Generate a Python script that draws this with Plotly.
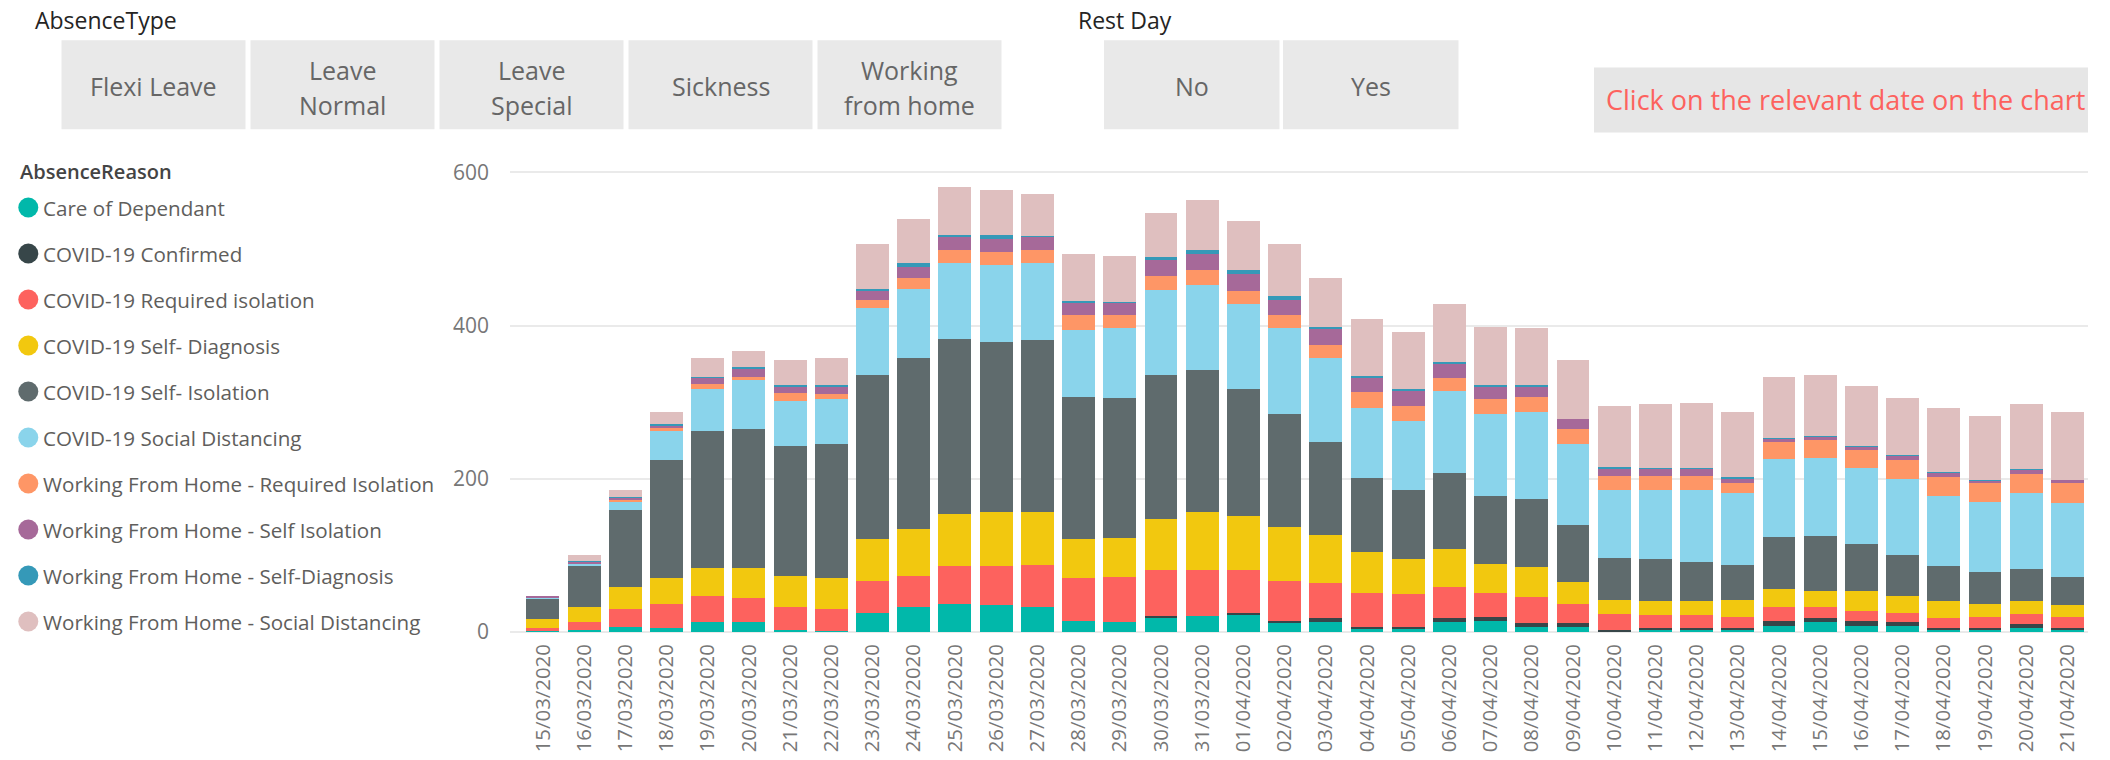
import plotly.graph_objects as go

# ---- data ---------------------------------------------------------------
dates = [
    "15/03/2020", "16/03/2020", "17/03/2020", "18/03/2020", "19/03/2020",
    "20/03/2020", "21/03/2020", "22/03/2020", "23/03/2020", "24/03/2020",
    "25/03/2020", "26/03/2020", "27/03/2020", "28/03/2020", "29/03/2020",
    "30/03/2020", "31/03/2020", "01/04/2020", "02/04/2020", "03/04/2020",
    "04/04/2020", "05/04/2020", "06/04/2020", "07/04/2020", "08/04/2020",
    "09/04/2020", "10/04/2020", "11/04/2020", "12/04/2020", "13/04/2020",
    "14/04/2020", "15/04/2020", "16/04/2020", "17/04/2020", "18/04/2020",
    "19/04/2020", "20/04/2020", "21/04/2020",
]

care_of_dependant = [1, 3, 7, 5, 13, 13, 3, 1, 25, 32, 37, 35, 32, 15, 13, 18, 21, 22, 12, 13,
                     5, 5, 13, 15, 7, 7, 1, 2, 2, 2, 8, 13, 8, 8, 3, 3, 5, 3]
covid_confirmed = [0, 0, 0, 0, 0, 0, 0, 0, 0, 0, 0, 0, 0, 0, 0, 3, 0, 3, 3, 5,
                   2, 2, 5, 5, 5, 5, 2, 3, 3, 3, 7, 5, 7, 5, 2, 2, 5, 2]
covid_required_isolation = [4, 10, 23, 32, 34, 31, 29, 29, 41, 41, 49, 51, 56, 56, 59, 60, 60, 56, 51, 46,
                            44, 42, 41, 31, 34, 24, 20, 17, 17, 15, 17, 14, 12, 12, 13, 15, 14, 15]
covid_self_diagnosis = [12, 20, 29, 34, 36, 39, 41, 41, 56, 61, 68, 70, 68, 51, 51, 66, 76, 71, 71, 63,
                        53, 46, 49, 38, 39, 29, 19, 19, 19, 22, 24, 22, 27, 22, 22, 17, 17, 15]
covid_self_isolation = [27, 53, 100, 153, 180, 182, 170, 175, 214, 223, 228, 223, 225, 185, 182, 189, 185, 165, 148, 121,
                        97, 90, 100, 88, 88, 75, 54, 54, 51, 46, 68, 71, 61, 53, 46, 41, 41, 37]
covid_social_distancing = [1, 3, 11, 39, 54, 64, 59, 58, 87, 91, 100, 100, 100, 87, 92, 110, 111, 111, 112, 110,
                           92, 90, 106, 107, 114, 105, 90, 90, 93, 93, 102, 102, 99, 100, 92, 92, 100, 97]
wfh_required_isolation = [0, 1, 2, 3, 7, 4, 10, 7, 10, 14, 17, 17, 17, 20, 17, 19, 19, 17, 17, 17,
                          20, 20, 17, 20, 20, 20, 17, 19, 19, 14, 22, 24, 24, 24, 24, 24, 24, 26]
wfh_self_isolation = [2, 2, 3, 4, 8, 10, 8, 10, 12, 14, 17, 17, 18, 15, 16, 20, 22, 22, 20, 20,
                      19, 20, 20, 17, 13, 13, 10, 9, 9, 6, 4, 4, 4, 6, 6, 4, 6, 3]
wfh_self_diagnosis = [0, 1, 1, 2, 1, 3, 2, 2, 3, 5, 2, 5, 1, 3, 1, 5, 5, 5, 5, 3,
                      2, 2, 2, 2, 2, 0, 2, 1, 1, 1, 1, 1, 1, 1, 1, 1, 1, 0]
wfh_social_distancing = [0, 7, 9, 15, 24, 21, 33, 34, 58, 58, 63, 59, 55, 62, 60, 57, 65, 65, 67, 64,
                         75, 75, 75, 75, 75, 77, 80, 83, 85, 85, 80, 80, 78, 75, 83, 83, 84, 89]

reasons = [
    "Care of Dependant",
    "COVID-19 Confirmed",
    "COVID-19 Required isolation",
    "COVID-19 Self- Diagnosis",
    "COVID-19 Self- Isolation",
    "COVID-19 Social Distancing",
    "Working From Home - Required Isolation",
    "Working From Home - Self Isolation",
    "Working From Home - Self-Diagnosis",
    "Working From Home - Social Distancing",
]
series = [
    care_of_dependant, covid_confirmed, covid_required_isolation, covid_self_diagnosis,
    covid_self_isolation, covid_social_distancing, wfh_required_isolation,
    wfh_self_isolation, wfh_self_diagnosis, wfh_social_distancing,
]
colors = [
    "#01B8AA", "#374649", "#FD625E", "#F2C80F", "#5F6B6D",
    "#8AD4EB", "#FE9666", "#A66999", "#3599B8", "#DFBFBF",
]

absence_types = [["Flexi Leave"], ["Leave", "Normal"], ["Leave", "Special"], ["Sickness"], ["Working", "from home"]]
rest_day_options = [["No"], ["Yes"]]

# ---- page geometry (pixels) ----------------------------------------------
W, H = 2110, 760
M_L, M_R, M_T, M_B = 510, 22, 157, 128
PW = W - M_L - M_R
PH = H - M_T - M_B
FONT = "Segoe UI, Open Sans, sans-serif"


def fx(x):
    return (x - M_L) / PW


def fy(y):
    return (H - M_B - y) / PH


fig = go.Figure()
for name, vals, col in zip(reasons, series, colors):
    fig.add_trace(go.Bar(
        x=dates, y=vals, name=name,
        marker=dict(color=col, line=dict(width=0)),
        showlegend=False,
    ))

shapes = []
annotations = []


def text_at(x, y, text, size, color, anchor="left", weight=None):
    font = dict(family=FONT, size=size, color=color)
    if weight:
        font["weight"] = weight
    annotations.append(dict(
        x=fx(x), y=fy(y), xref="paper", yref="paper",
        xanchor=anchor, yanchor="middle", text=text, showarrow=False, font=font,
    ))


def button(x0, x1, lines):
    shapes.append(dict(
        type="rect", xref="paper", yref="paper",
        x0=fx(x0), x1=fx(x1), y0=fy(129.3), y1=fy(40.3),
        fillcolor="#E9E9E9", line=dict(width=0), layer="below",
    ))
    cx = (x0 + x1) / 2
    if len(lines) == 1:
        text_at(cx, 86, lines[0], 25, "#666666", anchor="center")
    else:
        text_at(cx, 70, lines[0], 25, "#666666", anchor="center")
        text_at(cx, 105, lines[1], 25, "#666666", anchor="center")


# legend drawn as circles + labels on the left
text_at(18, 171, "AbsenceReason", 20, "#444444", weight=600)
for i, (name, col) in enumerate(zip(reasons, colors)):
    cy = 207.5 + 46.0 * i
    shapes.append(dict(
        type="circle", xref="paper", yref="paper",
        x0=fx(18.3), x1=fx(38.3), y0=fy(cy + 10), y1=fy(cy - 10),
        fillcolor=col, line=dict(width=0),
    ))
    text_at(41, cy, name, 20.6, "#605E5C")

# slicer: AbsenceType
text_at(33, 20, "AbsenceType", 23, "#252423")
for i, lines in enumerate(absence_types):
    x0 = 61.5 + 189 * i
    button(x0, x0 + 184, lines)

# slicer: Rest Day
text_at(1076, 20, "Rest Day", 23, "#252423")
for i, lines in enumerate(rest_day_options):
    x0 = 1104 + 179 * i
    button(x0, x0 + 175.5, lines)

# instruction banner
shapes.append(dict(
    type="rect", xref="paper", yref="paper",
    x0=fx(1594), x1=fx(2088), y0=fy(132.5), y1=fy(67.5),
    fillcolor="#E6E6E6", line=dict(width=0), layer="below",
))
text_at(1604, 100, "Click on the relevant date on the chart", 27, "#FD625E")

fig.update_layout(
    barmode="stack",
    bargap=0.2,
    width=W, height=H, autosize=False,
    margin=dict(l=M_L, r=M_R, t=M_T, b=M_B, pad=0),
    paper_bgcolor="white", plot_bgcolor="white",
    font=dict(family=FONT, color="#777777"),
    showlegend=False,
    shapes=shapes,
    annotations=annotations,
    xaxis=dict(
        type="category", range=[-0.8, 37.5], automargin=False,
        tickangle=-90, tickfont=dict(family=FONT, size=20.4, color="#777777"),
        showgrid=False, showline=False, zeroline=False, ticks="",
        ticklabelstandoff=7, fixedrange=True,
    ),
    yaxis=dict(
        range=[0, 620], tickvals=[0, 200, 400, 600], automargin=False,
        tickfont=dict(family=FONT, size=21, color="#777777"),
        showgrid=True, gridcolor="#EAEAEA", gridwidth=2,
        zeroline=True, zerolinecolor="#EAEAEA", zerolinewidth=2,
        showline=False, ticks="", ticklabelstandoff=20, fixedrange=True,
    ),
)

fig.write_html("out.html")
